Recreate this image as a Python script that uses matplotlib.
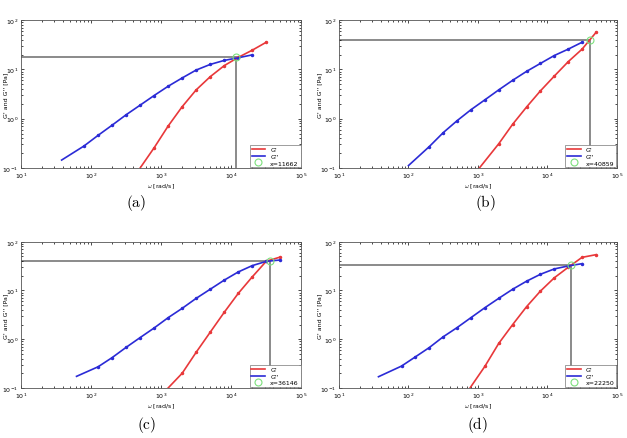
from matplotlib import pyplot as plt
import numpy as np

plt.rcParams['mathtext.fontset'] = 'cm'

# frequencies of the data points [rad/s]
w_a = [79.4, 126, 200, 316, 501, 794, 1259, 1995, 3162, 5012, 7943, 12589, 19953, 31623]
w_b = [200, 316, 501, 794, 1259, 1995, 3162, 5012, 7943, 12589, 19953, 31623, 50119]
w_c = [126, 200, 316, 501, 794, 1259, 1995, 3162, 5012, 7943, 12589, 19953, 31623, 50119]
w_d = [79.4, 126, 200, 316, 501, 794, 1259, 1995, 3162, 5012, 7943, 12589, 19953, 31623, 50119]

# G'' (blue) -- first entry is where the curve starts, no marker there
gpp_a = [0.145, 0.28, 0.46, 0.74, 1.2, 1.88, 2.95, 4.55, 6.7, 9.7, 12.6, 15.2, 17.2, 19.7]
gpp_w_a = [38] + w_a[:13]
gpp_b = [0.112, 0.273, 0.52, 0.91, 1.52, 2.41, 3.84, 6.0, 9.1, 13.2, 19.1, 25.7, 35.5]
gpp_w_b = [100] + w_b[:12]
gpp_c = [0.173, 0.272, 0.42, 0.68, 1.08, 1.70, 2.77, 4.3, 6.9, 10.6, 16.3, 24.0, 32.4, 39.6, 42.3]
gpp_w_c = [62] + w_c
gpp_d = [0.17, 0.281, 0.435, 0.676, 1.12, 1.73, 2.77, 4.43, 6.9, 10.6, 15.5, 21.5, 27.7, 31.9, 35.5]
gpp_w_d = [37] + w_d[:14]

# G' (red)
gp_a = [0.1, 0.257, 0.71, 1.75, 3.84, 7.1, 11.9, 17.5, 24.5, 35.5]
gp_w_a = [501] + w_a[5:]
gp_b = [0.1, 0.31, 0.77, 1.72, 3.66, 7.3, 14.3, 25.7, 56]
gp_w_b = [1050] + w_b[5:]
gp_c = [0.1, 0.20, 0.54, 1.39, 3.56, 8.7, 19.0, 39.8, 48.6]
gp_w_c = [1259] + w_c[6:]
gp_d = [0.1, 0.277, 0.82, 1.99, 4.64, 9.7, 18.2, 29.9, 47.9, 54.3]
gp_w_d = [770] + w_d[6:]

# crossover points
cross_x = [11662, 40859, 36146, 22250]
cross_y = [17.5, 40.0, 40.3, 33.9]
labels = ['(a)', '(b)', '(c)', '(d)']

red = '#e8383a'
blue = '#2b2bd6'

fig = plt.figure(figsize=(6.27, 4.39), dpi=100)
boxes = [[0.0335, 0.615, 0.447, 0.337],
         [0.5407, 0.615, 0.443, 0.337],
         [0.0335, 0.114, 0.447, 0.333],
         [0.5407, 0.114, 0.443, 0.333]]
ylab_x = [-0.047, -0.06, -0.047, -0.06]
caps = [(0.217, 0.538), (0.775, 0.538), (0.234, 0.032), (0.762, 0.032)]

panels = [(gp_w_a, gp_a, gpp_w_a, gpp_a),
          (gp_w_b, gp_b, gpp_w_b, gpp_b),
          (gp_w_c, gp_c, gpp_w_c, gpp_c),
          (gp_w_d, gp_d, gpp_w_d, gpp_d)]

for i, (xr, yr, xb, yb) in enumerate(panels):
    ax = fig.add_axes(boxes[i])
    ax.set_xscale('log')
    ax.set_yscale('log')
    ax.set_xlim(10, 1e5)
    ax.set_ylim(0.1, 100)

    ax.plot(xr, yr, color=red, lw=1.2, label="G'")
    ax.plot(xb, yb, color=blue, lw=1.2, label="G''")
    ax.plot(xr[1:], yr[1:], '.', color=red, ms=3)
    ax.plot(xb[1:], yb[1:], '.', color=blue, ms=3)

    cx, cy = cross_x[i], cross_y[i]
    ax.plot([10, cx], [cy, cy], color='#8a8a8a', lw=1.4, zorder=1)
    ax.plot([cx, cx], [0.1, cy], color='#8a8a8a', lw=1.4, zorder=1)
    ax.plot([cx], [cy], 'o', mfc='none', mec='#7de07d', ms=5, mew=0.8,
            label='x=%d' % cx)

    ax.tick_params(which='both', direction='in', top=True, right=True,
                   labelsize=4.5, width=0.5, pad=2)
    ax.tick_params(which='major', length=2.5)
    ax.tick_params(which='minor', length=1.3)
    for s in ax.spines.values():
        s.set_color('#555555')
        s.set_linewidth(0.6)
    ax.set_xlabel(r'$\omega$ [rad/s]', fontsize=4.5, labelpad=1)
    ax.set_ylabel("G' and G'' [Pa]", fontsize=4.5)
    ax.yaxis.set_label_coords(ylab_x[i], 0.5)
    leg = ax.legend(loc='lower right', fontsize=4.5, fancybox=False,
                    framealpha=1, edgecolor='#777777', borderpad=0.3,
                    handlelength=2.2, labelspacing=0.2, borderaxespad=0.1)
    leg.get_frame().set_linewidth(0.5)

    fig.text(caps[i][0], caps[i][1], r'$\mathrm{%s}$' % labels[i],
             fontsize=11, ha='center', va='center')

fig.savefig('out.png', dpi=100)
